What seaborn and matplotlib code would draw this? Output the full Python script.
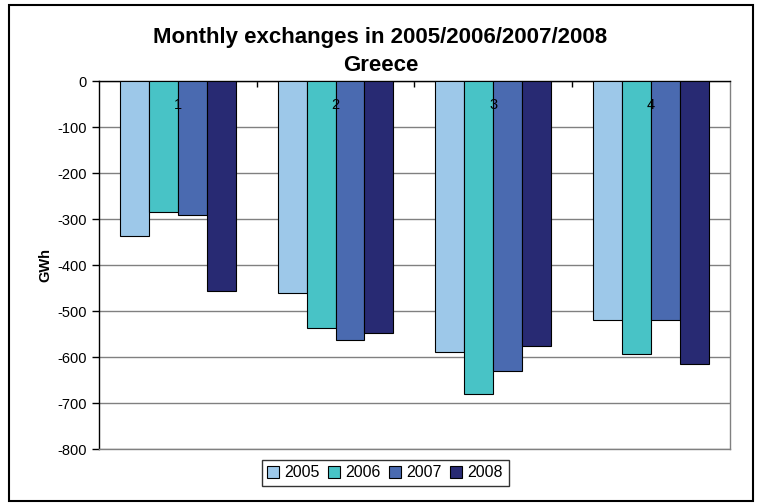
import pandas as pd
import matplotlib
matplotlib.use("Agg")
import matplotlib.pyplot as plt
import seaborn as sns
from matplotlib.patches import Rectangle

# --- data ---
quarters = ["1", "2", "3", "4"]
years = ["2005", "2006", "2007", "2008"]
v2005 = [-337, -460, -589, -520]
v2006 = [-283, -536, -680, -592]
v2007 = [-291, -562, -629, -518]
v2008 = [-456, -548, -575, -614]
colors = ["#9DC8E9", "#48C3C6", "#4A6AB0", "#282A73"]

rows = []
for year, vals in zip(years, [v2005, v2006, v2007, v2008]):
    for q, v in zip(quarters, vals):
        rows.append({"quarter": q, "year": year, "gwh": v})
df = pd.DataFrame(rows)

sns.set_style("white")
plt.rcParams["font.family"] = ["Liberation Sans", "DejaVu Sans"]
plt.rcParams["axes.unicode_minus"] = False
plt.rcParams["text.color"] = "black"
plt.rcParams["axes.labelcolor"] = "black"
plt.rcParams["xtick.color"] = "black"
plt.rcParams["ytick.color"] = "black"

fig = plt.figure(figsize=(7.61, 5.03), dpi=100)
ax = fig.add_axes([0.130, 0.107, 0.829, 0.731])

sns.barplot(data=df, x="quarter", y="gwh", hue="year", order=quarters,
            hue_order=years, palette=colors, width=0.735, gap=0,
            edgecolor="black", linewidth=0.8, saturation=1, ax=ax, zorder=3)

ax.set_ylim(-800, 0)
ax.set_yticks(range(-800, 1, 100))
ax.yaxis.grid(True, color="#808080", linewidth=1, zorder=0)
ax.set_axisbelow(True)
ax.set_xlim(-0.5, 3.5)

# --- category labels just under the zero line, over the bars ---
ax.tick_params(axis="x", bottom=False, top=False, labelbottom=False,
               labeltop=False)
xt = ax.get_xaxis_transform()
for i, q in enumerate(quarters):
    ax.text(i, 0.935, q, transform=xt, ha="center", va="center",
            fontsize=10.5, zorder=5)
ax.set_xticks([0.5, 1.5, 2.5], minor=True)
ax.tick_params(axis="x", which="minor", top=True, bottom=False,
               direction="in", length=4, width=1, color="black")

ax.tick_params(axis="y", left=True, direction="out", length=5,
               width=1, color="black", labelsize=10.5)
ax.set_xlabel("")
ax.set_ylabel("GWh", fontsize=10.5, fontweight="bold", labelpad=4)

ax.spines["top"].set_color("black")
ax.spines["left"].set_color("black")
ax.spines["bottom"].set_color("#808080")
ax.spines["right"].set_color("#808080")
for s in ax.spines.values():
    s.set_linewidth(1)
    s.set_visible(True)

# --- legend ---
ax.legend_.remove()
handles = [Rectangle((0, 0), 1, 1, facecolor=c, edgecolor="black", linewidth=0.8)
           for c in colors]
leg = fig.legend(handles, years, loc="center", bbox_to_anchor=(0.506, 0.060),
                 ncol=4, frameon=True, fancybox=False, fontsize=11.5,
                 handlelength=0.75, handleheight=0.75, handletextpad=0.35,
                 columnspacing=0.5, borderpad=0.35, edgecolor="black")
leg.get_frame().set_linewidth(1)

fig.text(0.5, 0.925, "Monthly exchanges in 2005/2006/2007/2008",
         ha="center", va="center", fontsize=16, fontweight="bold")
fig.text(0.5, 0.870, "Greece", ha="center", va="center",
         fontsize=16, fontweight="bold")

# outer chart border
fig.add_artist(Rectangle((9 / 761, 1 - 501 / 503), 744 / 761, 496 / 503,
                         transform=fig.transFigure, fill=False,
                         edgecolor="black", linewidth=1.5))

fig.savefig("out.png", dpi=100)
